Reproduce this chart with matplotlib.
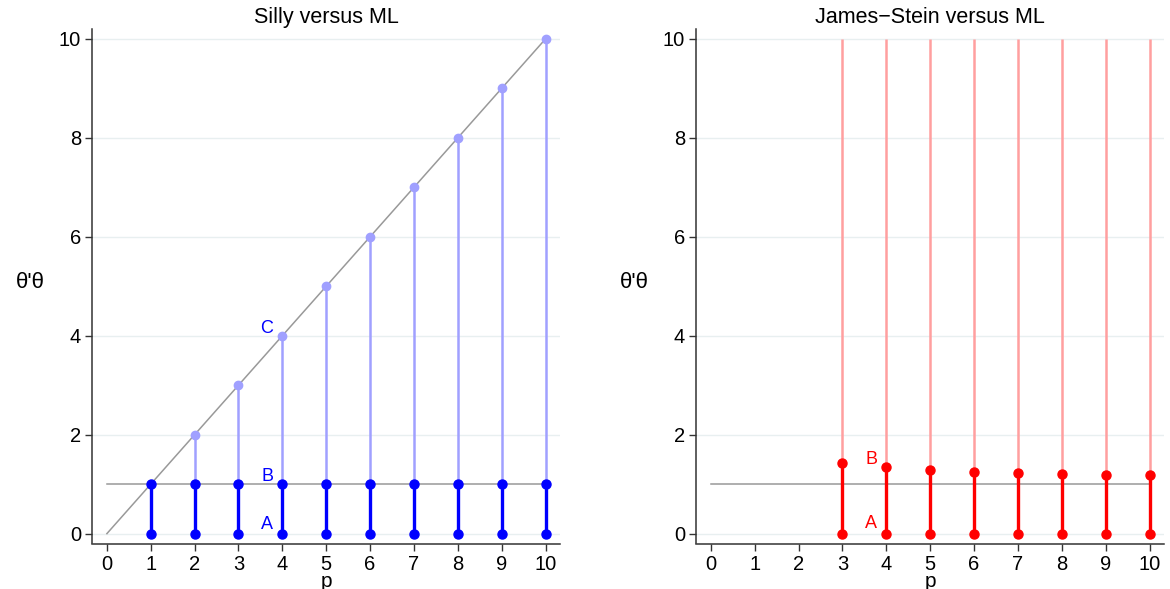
import matplotlib
matplotlib.use("Agg")
import matplotlib.pyplot as plt
import numpy as np

plt.rcParams["font.family"] = ["Liberation Sans", "DejaVu Sans"]

# data
p = np.arange(1, 11)                 # dimension p
ml_risk = np.ones(len(p))            # ML risk = 1 for each p
silly_risk = p.astype(float)         # silly estimator: theta'theta = p
p_js = np.arange(3, 11)
js_risk = [1.42, 1.34, 1.29, 1.25, 1.22, 1.20, 1.19, 1.18]
js_top = [10] * len(p_js)

BLUE = "#0000ff"
LIGHT_BLUE = "#a0a0ff"
RED = "#ff0000"
LIGHT_RED = "#ff9f9f"
GRAY = "#999999"
GRID = "#e8eff0"


def style_axes(ax, title):
    ax.set_xlim(-0.34, 10.33)
    ax.set_ylim(-0.2, 10.2)
    ax.set_xticks(range(0, 11))
    ax.set_yticks(range(0, 11, 2))
    for s in ["top", "right"]:
        ax.spines[s].set_visible(False)
    for s in ["left", "bottom"]:
        ax.spines[s].set_color("#333333")
        ax.spines[s].set_linewidth(1.1)
    ax.tick_params(axis="both", labelsize=14.5, length=5, color="#333333",
                   width=1.0, pad=3)
    ax.yaxis.grid(True, color=GRID, linewidth=1.0)
    ax.set_axisbelow(True)
    ax.set_title(title, fontsize=15.5, pad=4)
    ax.set_xlabel("p", fontsize=15, labelpad=-1)
    ax.set_ylabel("θ'θ", fontsize=16, rotation=0, va="center", ha="center")
    ax.yaxis.set_label_coords(-0.132, 0.508)


fig = plt.figure(figsize=(11.7, 5.89), dpi=100)
ax1 = fig.add_axes([92 / 1170, 1 - 543.5 / 589, 468 / 1170, 514.5 / 589])
ax2 = fig.add_axes([696 / 1170, 1 - 543.5 / 589, 468 / 1170, 514.5 / 589])

# ---- left: silly versus ML
ax1.plot([0, 10], [0, 10], color=GRAY, linewidth=1.1, zorder=2)
ax1.plot([0, 10], [1, 1], color=GRAY, linewidth=1.1, zorder=2)
ax1.vlines(p[1:], ml_risk[1:], silly_risk[1:], color=LIGHT_BLUE, linewidth=1.8, zorder=3)
ax1.plot(p[1:], silly_risk[1:], "o", color=LIGHT_BLUE, markersize=6, zorder=4)
ax1.vlines(p, 0, ml_risk, color=BLUE, linewidth=2.4, zorder=3)
ax1.plot(p, np.zeros(len(p)), "o", color=BLUE, markersize=6.5, zorder=4)
ax1.plot(p, ml_risk, "o", color=BLUE, markersize=6.5, zorder=4)
ax1.text(3.65, 0.18, "A", color=BLUE, fontsize=13, ha="center", va="center")
ax1.text(3.65, 1.15, "B", color=BLUE, fontsize=13, ha="center", va="center")
ax1.text(3.65, 4.15, "C", color=BLUE, fontsize=13, ha="center", va="center")
style_axes(ax1, "Silly versus ML")

# ---- right: James-Stein versus ML
ax2.plot([0, 10], [1, 1], color=GRAY, linewidth=1.1, zorder=2)
ax2.vlines(p_js, js_risk, js_top, color=LIGHT_RED, linewidth=1.8, zorder=3)
ax2.vlines(p_js, 0, js_risk, color=RED, linewidth=2.4, zorder=3)
ax2.plot(p_js, np.zeros(len(p_js)), "o", color=RED, markersize=6.5, zorder=4)
ax2.plot(p_js, js_risk, "o", color=RED, markersize=6.5, zorder=4)
ax2.text(3.65, 0.2, "A", color=RED, fontsize=13, ha="center", va="center")
ax2.text(3.65, 1.5, "B", color=RED, fontsize=13, ha="center", va="center")
style_axes(ax2, "James\u2212Stein versus ML")

fig.savefig("out.png", dpi=100)
